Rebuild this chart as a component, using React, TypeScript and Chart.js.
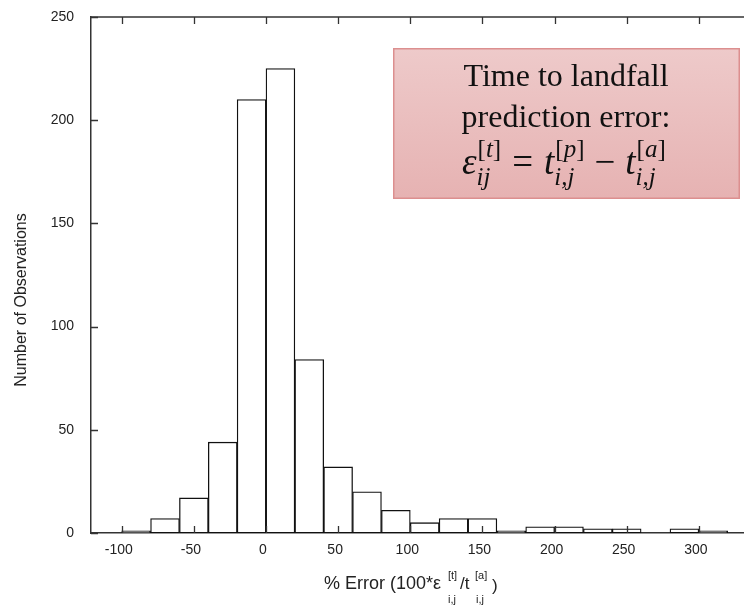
import React, { useEffect, useRef } from 'react';
import { Chart, registerables } from 'chart.js';

Chart.register(...registerables);

// ---- data ----
const binStarts = [-100, -80, -60, -40, -20, 0, 20, 40, 60, 80, 100, 120, 140, 160, 180, 200, 220, 240, 260, 280, 300];
const binWidth = 20;
const counts = [1, 7, 17, 44, 210, 225, 84, 32, 20, 11, 5, 7, 7, 1, 3, 3, 2, 2, 0, 2, 1];
const xTicks = [-100, -50, 0, 50, 100, 150, 200, 250, 300];
const yTicks = [0, 50, 100, 150, 200, 250];
const xMin = -121.3;
const xMax = 331.3;
const yMin = 0;
const yMax = 250;
const yTitle = 'Number of Observations';
const xTitleMain = '% Error (100*\u03b5';
const boxLines = ['Time to landfall', 'prediction error:'];

const SANS = '"Liberation Sans", Arial, sans-serif';
const SERIF = '"Liberation Serif", "Times New Roman", serif';
const AXIS = '#333333';
const TEXT = '#222222';

type Piece = { t: string; i: boolean };

function drawPieces(ctx: CanvasRenderingContext2D, pieces: Piece[], x: number, y: number, size: number) {
  let cx = x;
  for (const p of pieces) {
    ctx.font = `${p.i ? 'italic ' : ''}${size}px ${SERIF}`;
    ctx.fillText(p.t, cx, y);
    cx += ctx.measureText(p.t).width;
  }
  return cx - x;
}

function drawFormula(ctx: CanvasRenderingContext2D, x0: number, base: number) {
  const big = 37;
  const small = 25;
  const supDy = -17;
  const subDy = 11;
  let x = x0;
  const main = (pieces: Piece[]) => {
    x += drawPieces(ctx, pieces, x, base, big);
  };
  const gap = (w: number) => {
    x += w;
  };
  const scripts = (sup: Piece[], sub: Piece[]) => {
    const w1 = drawPieces(ctx, sup, x + 1, base + supDy, small);
    const w2 = drawPieces(ctx, sub, x, base + subDy, small);
    x += Math.max(w1 + 1, w2);
  };
  main([{ t: '\u03b5', i: true }]);
  scripts([{ t: '[', i: false }, { t: 't', i: true }, { t: ']', i: false }], [{ t: 'ij', i: true }]);
  gap(11);
  main([{ t: '=', i: false }]);
  gap(11);
  main([{ t: 't', i: true }]);
  scripts([{ t: '[', i: false }, { t: 'p', i: true }, { t: ']', i: false }], [{ t: 'i,j', i: true }]);
  gap(10);
  main([{ t: '\u2212', i: false }]);
  gap(10);
  main([{ t: 't', i: true }]);
  scripts([{ t: '[', i: false }, { t: 'a', i: true }, { t: ']', i: false }], [{ t: 'i,j', i: true }]);
  return x - x0;
}

const decor = {
  id: 'decor',
  afterDatasetsDraw(chart: any) {
    const { ctx, chartArea: ca, scales } = chart;
    const x = scales.x;
    const y = scales.y;
    ctx.save();
    ctx.strokeStyle = AXIS;
    ctx.lineWidth = 1.5;
    ctx.beginPath();
    ctx.moveTo(ca.left, ca.top);
    ctx.lineTo(ca.right, ca.top);
    ctx.stroke();
    ctx.lineWidth = 1.3;
    ctx.beginPath();
    for (const v of xTicks) {
      const px = Math.round(x.getPixelForValue(v)) + 0.5;
      ctx.moveTo(px, ca.bottom);
      ctx.lineTo(px, ca.bottom - 7);
      ctx.moveTo(px, ca.top);
      ctx.lineTo(px, ca.top + 7);
    }
    for (const v of yTicks) {
      const py = Math.round(y.getPixelForValue(v)) + 0.5;
      ctx.moveTo(ca.left, py);
      ctx.lineTo(ca.left + 7, py);
    }
    ctx.stroke();
    ctx.restore();
  },
  afterDraw(chart: any) {
    const { ctx } = chart;
    ctx.save();
    // y axis title
    ctx.fillStyle = TEXT;
    ctx.font = `16px ${SANS}`;
    ctx.textAlign = 'center';
    ctx.textBaseline = 'middle';
    ctx.translate(22, 300);
    ctx.rotate(-Math.PI / 2);
    ctx.fillText(yTitle, 0, 0);
    ctx.setTransform(1, 0, 0, 1, 0, 0);

    // x axis title with scripts
    ctx.textBaseline = 'alphabetic';
    ctx.textAlign = 'right';
    ctx.font = `18px ${SANS}`;
    ctx.fillText(xTitleMain, 441, 589);
    ctx.textAlign = 'left';
    ctx.font = `11px ${SANS}`;
    ctx.fillText('[t]', 448, 579);
    ctx.fillText('i,j', 448, 603);
    ctx.font = `17px ${SANS}`;
    ctx.fillText('/t', 460, 589);
    ctx.font = `11px ${SANS}`;
    ctx.fillText('[a]', 475, 579);
    ctx.fillText('i,j', 476, 603);
    ctx.font = `17px ${SANS}`;
    ctx.fillText(')', 492, 591);

    // annotation box
    const bx = 393, by = 48, bw = 347, bh = 151;
    const g = ctx.createLinearGradient(0, by, 0, by + bh);
    g.addColorStop(0, '#eecaca');
    g.addColorStop(1, '#e6b2b2');
    ctx.fillStyle = g;
    ctx.fillRect(bx, by, bw, bh);
    ctx.strokeStyle = '#dc8f8f';
    ctx.lineWidth = 1.5;
    ctx.strokeRect(bx + 0.75, by + 0.75, bw - 1.5, bh - 1.5);

    ctx.fillStyle = '#111111';
    ctx.textAlign = 'center';
    ctx.font = `32px ${SERIF}`;
    ctx.fillText(boxLines[0], 566, 86);
    ctx.fillText(boxLines[1], 566, 127);
    ctx.textAlign = 'left';
    drawFormula(ctx, 462, 174);
    ctx.restore();
  },
};

export default function App() {
  const ref = useRef<HTMLCanvasElement | null>(null);
  useEffect(() => {
    if (!ref.current) return;
    const chart = new Chart(ref.current, {
      type: 'bar',
      data: {
        datasets: [
          {
            data: binStarts.map((s, i) => ({ x: s + binWidth / 2, y: counts[i] })),
            backgroundColor: '#ffffff',
            borderColor: '#111111',
            borderWidth: 1.3,
            borderSkipped: false,
            barPercentage: 1,
            categoryPercentage: 1,
          } as any,
        ],
      },
      options: {
        animation: false,
        responsive: false,
        maintainAspectRatio: false,
        layout: { padding: { top: 17, left: 0, right: 0, bottom: 0 } },
        plugins: { legend: { display: false }, tooltip: { enabled: false } },
        scales: {
          x: {
            type: 'linear',
            offset: false,
            min: xMin,
            max: xMax,
            afterBuildTicks: (s: any) => {
              s.ticks = xTicks.map((v) => ({ value: v }));
            },
            afterFit: (s: any) => {
              s.height = 80;
              s.paddingLeft = 0;
              s.paddingRight = 0;
            },
            grid: { display: false, drawTicks: false, offset: false },
            border: { display: true, color: AXIS, width: 1.5 },
            ticks: {
              padding: 9,
              labelOffset: -3,
              color: TEXT,
              maxRotation: 0,
              autoSkip: false,
              font: { family: SANS, size: 14 },
            },
          },
          y: {
            type: 'linear',
            min: yMin,
            max: yMax,
            afterBuildTicks: (s: any) => {
              s.ticks = yTicks.map((v) => ({ value: v }));
            },
            afterFit: (s: any) => {
              s.width = 91;
              s.paddingTop = 0;
              s.paddingBottom = 0;
            },
            grid: { display: false, drawTicks: false },
            border: { display: true, color: AXIS, width: 1.5 },
            ticks: {
              padding: 17,
              color: TEXT,
              font: { family: SANS, size: 14 },
            },
          },
        },
      } as any,
      plugins: [decor],
    });
    return () => chart.destroy();
  }, []);
  return (
    <div style={{ position: 'absolute', left: 0, top: 0, width: 744, height: 613, background: '#fff' }}>
      <canvas ref={ref} width={744} height={613} />
    </div>
  );
}
